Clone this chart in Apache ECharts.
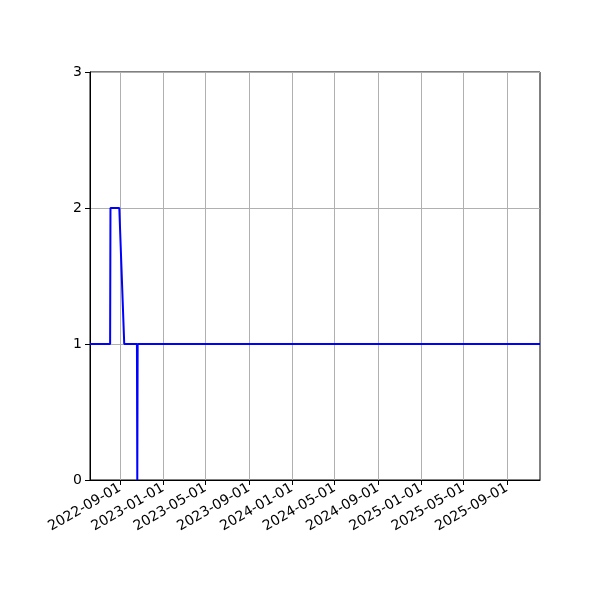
<!DOCTYPE html>
<html>
<head>
<meta charset="utf-8">
<script src="https://cdn.jsdelivr.net/npm/echarts@6/dist/echarts.min.js"></script>
<style>
  html, body { margin: 0; padding: 0; background: #fff; }
  #chart { width: 600px; height: 600px; }
</style>
</head>
<body>
<div id="chart"></div>
<script>
  // breakpoints of the line
  const dates = [
    "2022-06-08", "2022-08-04", "2022-08-05", "2022-08-30", "2022-09-13",
    "2022-10-19", "2022-10-20", "2022-10-21", "2025-12-04",
  ];
  const values = [1, 1, 2, 2, 1, 1, 0, 1, 1];

  const tickDates = [
    "2022-09-01", "2023-01-01", "2023-05-01", "2023-09-01", "2024-01-01",
    "2024-05-01", "2024-09-01", "2025-01-01", "2025-05-01", "2025-09-01",
  ];

  const xMin = "2022-06-08";
  const xMax = "2025-12-04";

  function ts(d) {
    return new Date(d + "T00:00:00Z").getTime();
  }

  function fmtDate(v) {
    const d = new Date(v);
    const m = String(d.getUTCMonth() + 1).padStart(2, "0");
    const day = String(d.getUTCDate()).padStart(2, "0");
    return `${d.getUTCFullYear()}-${m}-${day}`;
  }

  const tickValues = tickDates.map(ts);
  const font = "DejaVu Sans";

  const chart = echarts.init(document.getElementById("chart"));
  chart.setOption({
    animation: false,
    backgroundColor: "#fff",
    grid: {
      left: 90, right: 60, top: 72, bottom: 120,
      show: true, borderColor: "#000", borderWidth: 1, backgroundColor: "transparent",
    },
    xAxis: {
      type: "value",
      min: ts(xMin),
      max: ts(xMax),
      axisLine: { show: true, lineStyle: { color: "#000", width: 1 } },
      axisTick: {
        show: true, length: 5, inside: false,
        lineStyle: { color: "#000", width: 1 },
        customValues: tickValues,
      },
      axisLabel: {
        customValues: tickValues,
        rotate: 30,
        margin: 7,
        color: "#000",
        fontFamily: font,
        fontSize: 14,
        formatter: (v) => fmtDate(v),
      },
      splitLine: { show: false },
    },
    yAxis: {
      type: "value",
      min: 0,
      max: 3,
      interval: 1,
      axisLine: { show: true, lineStyle: { color: "#000", width: 1 } },
      axisTick: { show: true, length: 5, lineStyle: { color: "#000", width: 1 } },
      axisLabel: { color: "#000", fontFamily: font, fontSize: 14, margin: 8 },
      splitLine: { show: true, lineStyle: { color: "#b0b0b0", width: 1 } },
    },
    series: [
      {
        type: "line",
        data: dates.map((d, i) => [ts(d), values[i]]),
        showSymbol: false,
        lineStyle: { color: "#0000ff", width: 2 },
        itemStyle: { color: "#0000ff" },
        z: 5,
        // vertical grid lines at the date ticks
        markLine: {
          silent: true,
          symbol: "none",
          label: { show: false },
          lineStyle: { color: "#b0b0b0", width: 1, type: "solid" },
          data: tickValues.map((v) => ({ xAxis: v })),
          z: 1,
        },
      },
    ],
  });
</script>
</body>
</html>
